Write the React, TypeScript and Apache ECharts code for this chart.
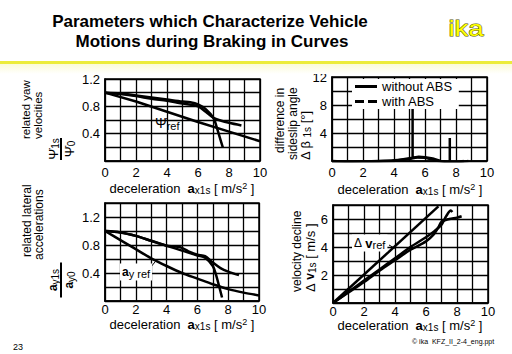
import React, { useEffect, useRef } from 'react';
import * as echarts from 'echarts';

const FONT = '"Liberation Sans", Arial, sans-serif';

// x-axis: deceleration a_x1s [m/s²]
const xTickLabels = [0, 2, 4, 6, 8, 10];

// top-left: related yaw velocities
const yawTickLabels = [0.4, 0.8, 1.2];
const yawRef = [[0, 1.0], [2, 0.87], [4, 0.72], [6, 0.57], [8, 0.43], [10, 0.29]];
const yawNoAbs = [[0, 1.0], [1, 0.99], [2, 0.96], [3, 0.93], [4, 0.9], [5, 0.87], [5.5, 0.86], [6, 0.83], [6.5, 0.76], [7, 0.63], [7.2, 0.5], [7.4, 0.35], [7.6, 0.2]];
const yawAbs = [[0, 1.0], [1, 0.98], [2, 0.95], [3, 0.91], [4, 0.88], [5, 0.84], [6, 0.8], [6.5, 0.72], [7, 0.63], [7.5, 0.59], [8, 0.56], [8.8, 0.52]];

// top-right: difference in sideslip angle
const betaTickLabels = [4, 8, 12];
const betaNoAbs = [[0, -0.1], [1, -0.15], [2, -0.1], [3, -0.1], [4, 0], [4.5, 0.2], [5, 0.4], [5.2, 0.45], [5.2, 7.9], [5.2, 0.45], [5.6, 0.6], [6, 0.55], [6.5, 0.35], [7, 0.0], [7.5, -0.2], [7.6, -0.2], [7.6, 3.3], [7.6, -0.25], [8, -0.3], [8.5, -0.1], [8.8, 0]];
const betaAbs = [[0, 0], [1, -0.1], [2, -0.05], [3, 0], [4, 0.1], [5, 0.3], [5.5, 0.5], [6, 0.45], [6.5, 0.2], [7, -0.05], [7.5, -0.15], [8, -0.2], [8.5, 0]];

// bottom-left: related lateral accelerations
const latTickLabels = [0.4, 0.8, 1.2];
const latRef = [[0, 1.0], [1, 0.87], [2, 0.74], [3, 0.61], [4, 0.5], [5, 0.4], [6, 0.32], [7, 0.24], [8, 0.17], [9, 0.12], [10, 0.08]];
const latNoAbs = [[0, 1.0], [1, 0.98], [2, 0.93], [3, 0.86], [4, 0.79], [5, 0.72], [6, 0.65], [6.5, 0.62], [7, 0.5], [7.2, 0.38], [7.4, 0.22], [7.6, 0.05]];
const latAbs = [[0, 1.0], [1, 0.98], [2, 0.93], [3, 0.86], [4, 0.79], [4.5, 0.78], [5, 0.76], [5.5, 0.7], [6, 0.66], [6.5, 0.64], [7, 0.55], [7.5, 0.47], [8, 0.42], [8.7, 0.37]];

// bottom-right: velocity decline
const velTickLabels = [2, 4, 6];
const velRef = [[0, 0], [6.8, 6.9]];
const velNoAbs = [[0, 0], [1, 0.8], [2, 1.6], [3, 2.4], [4, 3.2], [5, 4.0], [6, 4.7], [6.5, 5.1], [7, 5.6], [7.3, 6.2], [7.6, 6.6], [7.7, 6.5]];
const velAbs = [[0, 0], [1, 0.75], [2, 1.5], [3, 2.3], [4, 3.05], [5, 3.8], [6, 4.4], [6.5, 4.9], [6.8, 5.4], [7, 5.8], [7.5, 6.0], [8, 6.1], [8.3, 6.2]];

const grids = [
  { left: 105, top: 79, width: 155, height: 82 },
  { left: 332, top: 77, width: 155, height: 84 },
  { left: 105, top: 203, width: 154, height: 98 },
  { left: 333, top: 205, width: 155, height: 98 },
];
const yRanges = [
  { max: 1.2, interval: 0.2, labels: yawTickLabels },
  { max: 12, interval: 2, labels: betaTickLabels },
  { max: 1.4, interval: 0.2, labels: latTickLabels },
  { max: 7, interval: 1, labels: velTickLabels },
];
const xLabelMargins = [5, 5, 2, 2];

const near = (v: number, list: number[]) => list.some((l) => Math.abs(l - v) < 1e-6);

const xTitleRich = {
  n: { fontSize: 13, fontFamily: FONT, color: '#000', lineHeight: 14 },
  b: { fontSize: 13, fontFamily: FONT, fontWeight: 'bold', color: '#000', lineHeight: 14 },
  s: { fontSize: 10, fontFamily: FONT, color: '#000', lineHeight: 2, verticalAlign: 'bottom' },
  p: { fontSize: 9, fontFamily: FONT, color: '#000', lineHeight: 6, verticalAlign: 'top' },
};
const xTitle = (x: number, y: number) => ({
  type: 'text', x, y, z: 50,
  style: {
    text: '{n|deceleration  }{b|a}{s|x1s}{n| [ m/s}{p|2}{n| ]}',
    rich: xTitleRich, align: 'center', verticalAlign: 'middle',
  },
});
const vText = (x: number, y: number, text: string, size = 12) => ({
  type: 'text', x, y, rotation: Math.PI / 2, z: 50,
  style: { text, font: `${size}px ${FONT}`, fill: '#000', align: 'left', verticalAlign: 'middle' },
});
const fracRich = {
  g: { fontSize: 13, fontFamily: FONT, color: '#000', lineHeight: 14 },
  b: { fontSize: 12, fontFamily: FONT, fontWeight: 'bold', color: '#000', lineHeight: 14 },
  s: { fontSize: 10, fontFamily: FONT, color: '#000', lineHeight: 4, verticalAlign: 'bottom' },
};
const fraction = (x: number, y: number, len: number, num: string, den: string) => ({
  type: 'group', x, y, rotation: Math.PI / 2, z: 50,
  children: [
    { type: 'line', shape: { x1: -len / 2, y1: 0, x2: len / 2, y2: 0 }, style: { stroke: '#000', lineWidth: 2 } },
    { type: 'text', x: 0, y: -1, style: { text: num, rich: fracRich, align: 'center', verticalAlign: 'bottom' } },
    { type: 'text', x: 0, y: 1, style: { text: den, rich: fracRich, align: 'center', verticalAlign: 'top' } },
  ],
});

export default function App() {
  const ref = useRef<HTMLDivElement>(null);
  useEffect(() => {
    document.body.style.margin = '0';
    const chart = echarts.init(ref.current!, null, { renderer: 'svg' });
    const lineSeries = (name: string, idx: number, data: number[][], smooth: number | boolean = 0.3) => ({
      type: 'line', name, xAxisIndex: idx, yAxisIndex: idx, data, symbol: 'none', showSymbol: false, smooth,
      lineStyle: { color: '#000', width: 2.5 }, itemStyle: { color: '#000' }, z: 10,
    });
    const option: any = {
      animation: false,
      backgroundColor: '#fff',
      grid: grids.map((g) => ({ ...g, show: true, borderColor: '#000', borderWidth: 1.5, backgroundColor: 'transparent' })),
      xAxis: grids.map((_, i) => ({
        type: 'value', gridIndex: i, min: 0, max: 10, interval: 1,
        axisLine: { show: true, onZero: false, lineStyle: { color: '#000', width: 1.5 } },
        axisTick: { show: false },
        splitLine: { show: true, lineStyle: { color: '#000', width: 1.3 } },
        axisLabel: {
          fontSize: 13, fontFamily: FONT, color: '#000', margin: xLabelMargins[i], lineHeight: 13,
          formatter: (v: number) => (near(v, xTickLabels) ? String(v) : ''),
        },
      })),
      yAxis: yRanges.map((r, i) => ({
        type: 'value', gridIndex: i, min: 0, max: r.max, interval: r.interval,
        axisLine: { show: true, lineStyle: { color: '#000', width: 1.5 } },
        axisTick: { show: false },
        splitLine: { show: true, lineStyle: { color: '#000', width: 1.3 } },
        axisLabel: {
          fontSize: 13, fontFamily: FONT, color: '#000', margin: 5,
          formatter: (v: number) => (near(v, r.labels) ? String(v) : ''),
        },
      })),
      legend: {
        left: 352, top: 79, orient: 'vertical', itemGap: 2, itemWidth: 22, itemHeight: 3,
        padding: [1, 6, 1, 3], backgroundColor: '#fff', z: 20,
        textStyle: { fontSize: 13, fontFamily: FONT, color: '#000', lineHeight: 12 },
        data: [
          { name: 'without ABS', icon: 'rect', itemStyle: { color: '#000' } },
          { name: 'with ABS', icon: 'path://M0 0H9V3H0Z M13 0H22V3H13Z', itemStyle: { color: '#000' } },
        ],
      },
      series: [
        lineSeries('reference', 0, yawRef, false),
        lineSeries('without ABS', 0, yawNoAbs),
        lineSeries('with ABS', 0, yawAbs),
        lineSeries('without ABS', 1, betaNoAbs, false),
        lineSeries('with ABS', 1, betaAbs, 0.3),
        lineSeries('reference', 2, latRef, 0.3),
        lineSeries('without ABS', 2, latNoAbs),
        lineSeries('with ABS', 2, latAbs),
        lineSeries('reference', 3, velRef, false),
        lineSeries('without ABS', 3, velNoAbs),
        lineSeries('with ABS', 3, velAbs),
      ],
      graphic: [
        { type: 'rect', shape: { x: 0, y: 64, width: 512, height: 10 }, style: { fill: new echarts.graphic.LinearGradient(0, 0, 0, 1, [{ offset: 0, color: '#fbfbd6' }, { offset: 1, color: '#ffffff' }]) }, z: 1 },
        { type: 'rect', shape: { x: 0, y: 61, width: 512, height: 3 }, style: { fill: '#ecec3a' }, z: 2 },
        { type: 'text', x: 210, y: 21, style: { text: 'Parameters which Characterize Vehicle', font: `bold 17px ${FONT}`, fill: '#000', align: 'center', verticalAlign: 'middle' } },
        { type: 'text', x: 212, y: 41, style: { text: 'Motions during Braking in Curves', font: `bold 17px ${FONT}`, fill: '#000', align: 'center', verticalAlign: 'middle' } },
        { type: 'text', x: 466, y: 28, scaleX: 1.25, style: { text: 'ika', font: `22px ${FONT}`, fill: '#ffff00', stroke: '#55550a', lineWidth: 1, align: 'center', verticalAlign: 'middle' } },
        { type: 'text', x: 18, y: 347, style: { text: '23', font: `9px ${FONT}`, fill: '#000', align: 'center', verticalAlign: 'middle' } },
        { type: 'text', x: 412, y: 341, style: { text: '© ika  KFZ_II_2-4_eng.ppt', font: `7px ${FONT}`, fill: '#000', align: 'left', verticalAlign: 'middle' } },
        // y-axis titles
        vText(26, 139, 'related yaw', 11.5),
        vText(38, 139, 'velocities', 11.5),
        fraction(61, 149, 22, '{g|Ψ̇}{s|1s}', '{g|Ψ̇}{s|0}'),
        vText(280, 153, 'difference in'),
        vText(293, 160, 'sideslip angle'),
        { type: 'text', x: 305, y: 160, rotation: Math.PI / 2, z: 50, style: { text: '{g|Δ β}{s| 1s}{g| [°]}', rich: fracRich, align: 'left', verticalAlign: 'middle' } },
        vText(27, 257, 'related lateral'),
        vText(39, 260, 'accelerations'),
        fraction(61, 280, 35, '{b|a}{s|y1s}', '{b|a}{s|y0}'),
        vText(297, 292, 'velocity decline'),
        { type: 'text', x: 310, y: 292, rotation: Math.PI / 2, z: 50, style: { text: '{g|Δ }{b|v}{s|1s}{g| [ m/s ]}', rich: fracRich, align: 'left', verticalAlign: 'middle' } },
        // x-axis titles
        xTitle(182, 188),
        xTitle(410, 189),
        xTitle(182, 324),
        xTitle(410, 325),
        // in-plot labels
        { type: 'text', x: 155, y: 123, z: 30, style: { text: '{g|Ψ̇}{s|ref}', rich: { g: { fontSize: 14, fontFamily: FONT, color: '#000', lineHeight: 16 }, s: { fontSize: 11, fontFamily: FONT, color: '#000', lineHeight: 11, verticalAlign: 'bottom' } }, align: 'left', verticalAlign: 'middle' } },
        { type: 'line', z: 30, shape: { x1: 150, y1: 268, x2: 155, y2: 262 }, style: { stroke: '#000', lineWidth: 1 } },
        { type: 'text', x: 120, y: 272, z: 30, style: { text: '{b|a}{s|y ref}', backgroundColor: '#fff', padding: [1, 2, 1, 2], rich: { b: { fontSize: 12, fontFamily: FONT, fontWeight: 'bold', color: '#000', lineHeight: 15 }, s: { fontSize: 11, fontFamily: FONT, color: '#000', lineHeight: 11, verticalAlign: 'bottom' } }, align: 'left', verticalAlign: 'middle' } },
        { type: 'text', x: 352, y: 243, z: 30, style: { text: '{g|Δ }{b|v}{s|ref}', backgroundColor: '#fff', padding: [1, 2, 1, 2], rich: { g: { fontSize: 12, fontFamily: FONT, color: '#000', lineHeight: 15 }, b: { fontSize: 13, fontFamily: FONT, fontWeight: 'bold', color: '#000', lineHeight: 15 }, s: { fontSize: 11, fontFamily: FONT, color: '#000', lineHeight: 11, verticalAlign: 'bottom' } }, align: 'left', verticalAlign: 'middle' } },
        { type: 'polyline', z: 30, shape: { points: [[389, 245], [396, 249]] }, style: { stroke: '#000', lineWidth: 1, fill: null } },
      ],
    };
    chart.setOption(option);
    return () => chart.dispose();
  }, []);
  return <div ref={ref} style={{ width: 512, height: 354 }} />;
}
